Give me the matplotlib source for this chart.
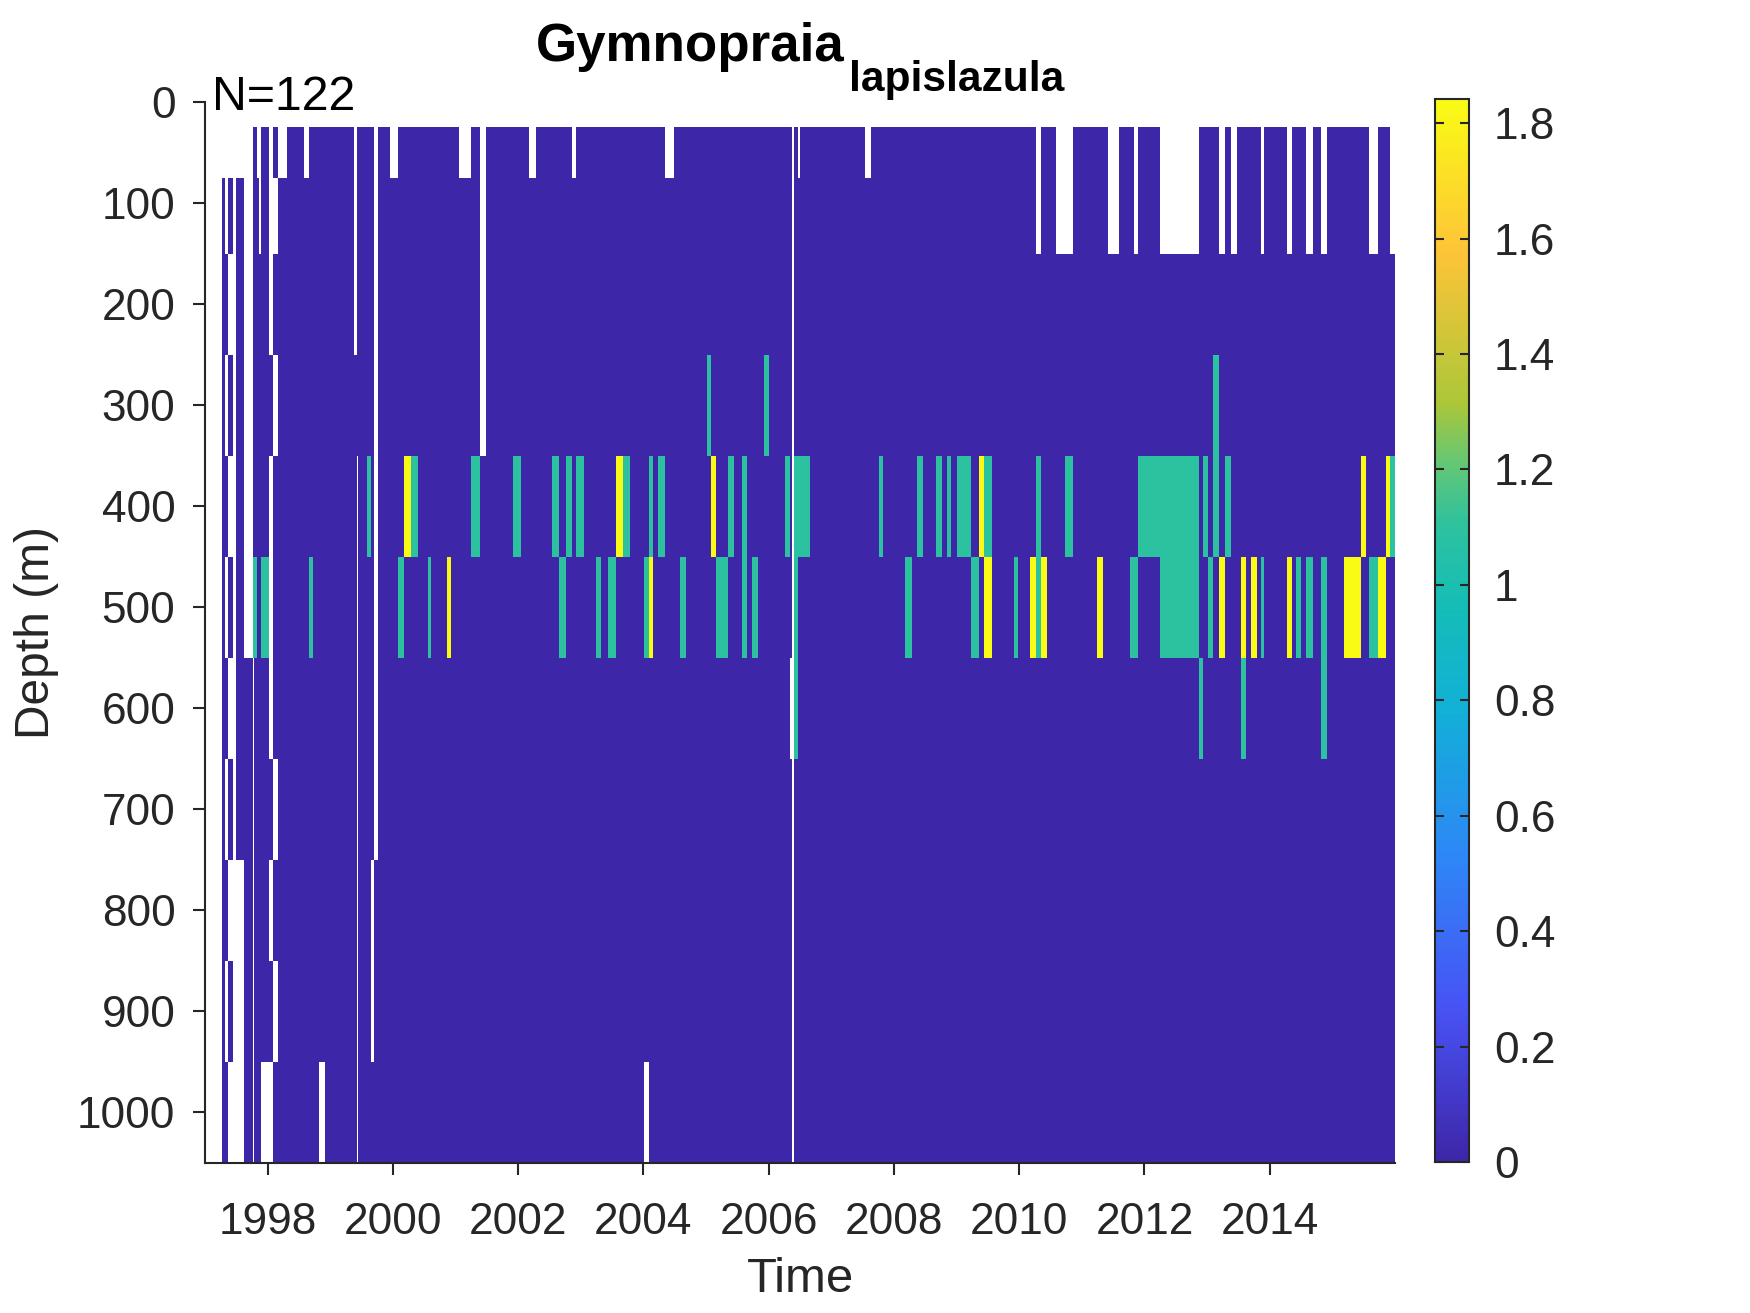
import numpy as np
import matplotlib
matplotlib.use('Agg')
import matplotlib.pyplot as plt
from matplotlib.colors import LinearSegmentedColormap

# depth bin edges (m), top to bottom
depth_edges = [25, 75, 150, 250, 350, 450, 550, 650, 750, 850, 950, 1050]

# time column edges (decimal year)
time_edges = [
    1997.272, 1997.325, 1997.373, 1997.453, 1997.496, 1997.619, 1997.772, 1997.788,
    1997.826, 1997.863, 1997.895, 1998.018, 1998.086, 1998.166, 1998.302, 1998.581,
    1998.661, 1998.725, 1998.816, 1998.916, 1999.384, 1999.422, 1999.443, 1999.587,
    1999.650, 1999.694, 1999.767, 1999.954, 2000.077, 2000.177, 2000.289, 2000.401,
    2000.560, 2000.608, 2000.864, 2000.927, 2001.060, 2001.247, 2001.385, 2001.486,
    2001.917, 2002.045, 2002.177, 2002.284, 2002.539, 2002.651, 2002.763, 2002.854,
    2002.927, 2003.050, 2003.242, 2003.322, 2003.429, 2003.561, 2003.678, 2003.785,
    2004.008, 2004.088, 2004.147, 2004.231, 2004.343, 2004.482, 2004.583, 2004.683,
    2005.014, 2005.077, 2005.157, 2005.349, 2005.445, 2005.572, 2005.647, 2005.732,
    2005.828, 2005.923, 2005.998, 2006.259, 2006.338, 2006.366, 2006.407, 2006.461,
    2006.493, 2006.658, 2007.535, 2007.631, 2007.754, 2007.823, 2008.174, 2008.286,
    2008.366, 2008.461, 2008.669, 2008.764, 2008.844, 2008.908, 2009.004, 2009.228,
    2009.355, 2009.435, 2009.563, 2009.914, 2009.978, 2010.169, 2010.265, 2010.345,
    2010.440, 2010.584, 2010.728, 2010.855, 2011.238, 2011.334, 2011.414, 2011.590,
    2011.765, 2011.829, 2011.893, 2012.244, 2012.867, 2012.930, 2013.010, 2013.090,
    2013.186, 2013.282, 2013.377, 2013.473, 2013.537, 2013.617, 2013.697, 2013.793,
    2013.856, 2013.904, 2014.271, 2014.351, 2014.415, 2014.495, 2014.575, 2014.686,
    2014.814, 2014.910, 2015.181, 2015.453, 2015.532, 2015.580, 2015.724, 2015.852,
    2015.915, 2016.011,
]

# one profile per time column, depth bins top->bottom
# '.' no sample, '0' absent, 't' and 'y' the two abundance levels
profiles = [
    ".0000000000", "..0.0.0.0.0", ".0.0.0.0.0.", "...........", ".0000000...",
    "......00000", "00000t.....", "00000t00000", ".0000000000", "..000000000",
    "00000t0000.", "...0...0.0.", "0.0.000.0.0", ".0000000000", "00000000000",
    ".0000000000", "00000t00000", "00000000000", "0000000000.", "00000000000",
    "...00000000", "0000.......", "00000000000", "0000t000000", "00000000..0",
    "........000", "00000000000", ".0000000000", "00000t00000", "0000y000000",
    "0000t000000", "00000000000", "00000t00000", "00000000000", "00000y00000",
    "00000000000", ".0000000000", "0000t000000", "....0000000", "00000000000",
    "0000t000000", "00000000000", ".0000000000", "00000000000", "0000t000000",
    "00000t00000", "0000t000000", ".0000000000", "0000t000000", "00000000000",
    "00000t00000", "00000000000", "00000t00000", "0000y000000", "0000t000000",
    "00000000000", "00000t0000.", "0000ty00000", "00000000000", "0000t000000",
    ".0000000000", "00000000000", "00000t00000", "00000000000", "000t0000000",
    "0000y000000", "00000t00000", "0000t000000", "00000000000", "0000tt00000",
    "00000000000", "00000t00000", "00000000000", "000t0000000", "00000000000",
    "0000t000000", "000000.0000", "...........", "0000ttt0000", ".000t000000",
    "0000t000000", "00000000000", ".0000000000", "00000000000", "0000t000000",
    "00000000000", "00000t00000", "00000000000", "0000t000000", "00000000000",
    "0000t000000", "00000000000", "0000t000000", "00000000000", "0000t000000",
    "00000t00000", "0000y000000", "0000ty00000", "00000000000", "00000t00000",
    "00000000000", "00000y00000", "..00tt00000", "00000y00000", "00000000000",
    "..000000000", "..00t000000", "00000000000", "00000y00000", "00000000000",
    "..000000000", "00000000000", "00000t00000", "..000t00000", "0000t000000",
    "..00tt00000", "000000t0000", "0000t000000", "00000t00000", "000tt000000",
    "..000y00000", "0000t000000", "..000000000", "00000000000", "00000yt0000",
    "00000000000", "00000y00000", "00000000000", "..000t00000", "00000000000",
    "..000y00000", "00000000000", "00000t00000", "00000000000", "..000t00000",
    "00000000000", "..000tt0000", "00000000000", "00000y00000", "0000y000000",
    "00000000000", "..000t00000", "00000y00000", "0000y000000", "..00t000000",
]

level_values = {'.': np.nan, '0': 0.0, 't': 1.0986, 'y': 1.842}
color_max = 1.842
cbar_ticks = [0, 0.2, 0.4, 0.6, 0.8, 1.0, 1.2, 1.4, 1.6, 1.8]
year_ticks = [1998, 2000, 2002, 2004, 2006, 2008, 2010, 2012, 2014]
depth_ticks = [0, 100, 200, 300, 400, 500, 600, 700, 800, 900, 1000]

# matlab-ish parula
parula = LinearSegmentedColormap.from_list('parula', [
    (0.000, (0.2422, 0.1504, 0.6603)),
    (0.143, (0.2810, 0.3228, 0.9579)),
    (0.286, (0.1786, 0.5289, 0.9682)),
    (0.429, (0.0689, 0.6948, 0.8394)),
    (0.520, (0.0800, 0.7400, 0.7200)),
    (0.600, (0.1800, 0.7600, 0.6200)),
    (0.660, (0.4000, 0.7800, 0.4500)),
    (0.714, (0.6720, 0.7793, 0.2227)),
    (0.857, (0.9970, 0.7659, 0.2199)),
    (1.000, (0.9769, 0.9839, 0.0805))], N=256)

plt.rcParams['font.family'] = ['Liberation Sans', 'DejaVu Sans']

grid = np.array([[level_values[c] for c in p] for p in profiles]).T
grid = np.ma.masked_invalid(grid)

W, H = 1750, 1313
fig = plt.figure(figsize=(W / 300, H / 300), dpi=300)
ax = fig.add_axes([205 / W, (H - 1162.5) / H, 1190 / W, 1060.5 / H])

mesh = ax.pcolormesh(time_edges, depth_edges, grid, cmap=parula, vmin=0, vmax=color_max,
                     shading='flat', edgecolors='none', antialiased=False)

ax.set_xlim(1997, 2016)
ax.set_ylim(1050, 0)
ax.set_xticks(year_ticks)
ax.set_yticks(depth_ticks)
ax.spines['top'].set_visible(False)
ax.spines['right'].set_visible(False)
for s in ['left', 'bottom']:
    ax.spines[s].set_linewidth(0.5)
    ax.spines[s].set_color('0.15')
ax.tick_params(direction='out', length=2.9, width=0.5, colors='0.15', labelsize=10.6)
ax.tick_params(axis='x', pad=6.5)
ax.tick_params(axis='y', pad=4.2)
ax.set_xlabel('Time', fontsize=11.8, color='0.15', labelpad=3.5)
ax.set_ylabel('Depth (m)', fontsize=11.5, color='0.15', labelpad=4.3)

ax.text(0.006, 1 - 8 / 1060.5, 'N=122', transform=ax.transAxes, fontsize=11.6,
        ha='left', va='baseline', color='k')

# title with subscript, centred over the axes
t_main = fig.text(0, 1 - 61 / H, 'Gymnopraia', fontsize=12.7, fontweight='bold',
                  va='baseline', ha='left')
t_sub = fig.text(0, 1 - 91.5 / H, 'lapislazula', fontsize=10.2, fontweight='bold',
                 va='baseline', ha='left')
fig.canvas.draw()
r = fig.canvas.get_renderer()
w_main = t_main.get_window_extent(r).width
w_sub = t_sub.get_window_extent(r).width
gap = 5
x0 = 800 - (w_main + gap + w_sub) / 2
t_main.set_x(x0 / W)
t_sub.set_x((x0 + w_main + gap) / W)

cax = fig.add_axes([1435 / W, (H - 1162) / H, 34 / W, 1063 / H])
cb = fig.colorbar(mesh, cax=cax, ticks=cbar_ticks)
cb.outline.set_linewidth(0.5)
cb.outline.set_edgecolor('0.15')
cax.yaxis.set_ticks_position('both')
cax.tick_params(direction='in', length=2.2, width=0.5, colors='0.15', labelsize=10.6,
                labelleft=False, labelright=True, pad=6)
cax.set_yticklabels(['%g' % v for v in cbar_ticks])

fig.savefig('out.png', dpi=300)
